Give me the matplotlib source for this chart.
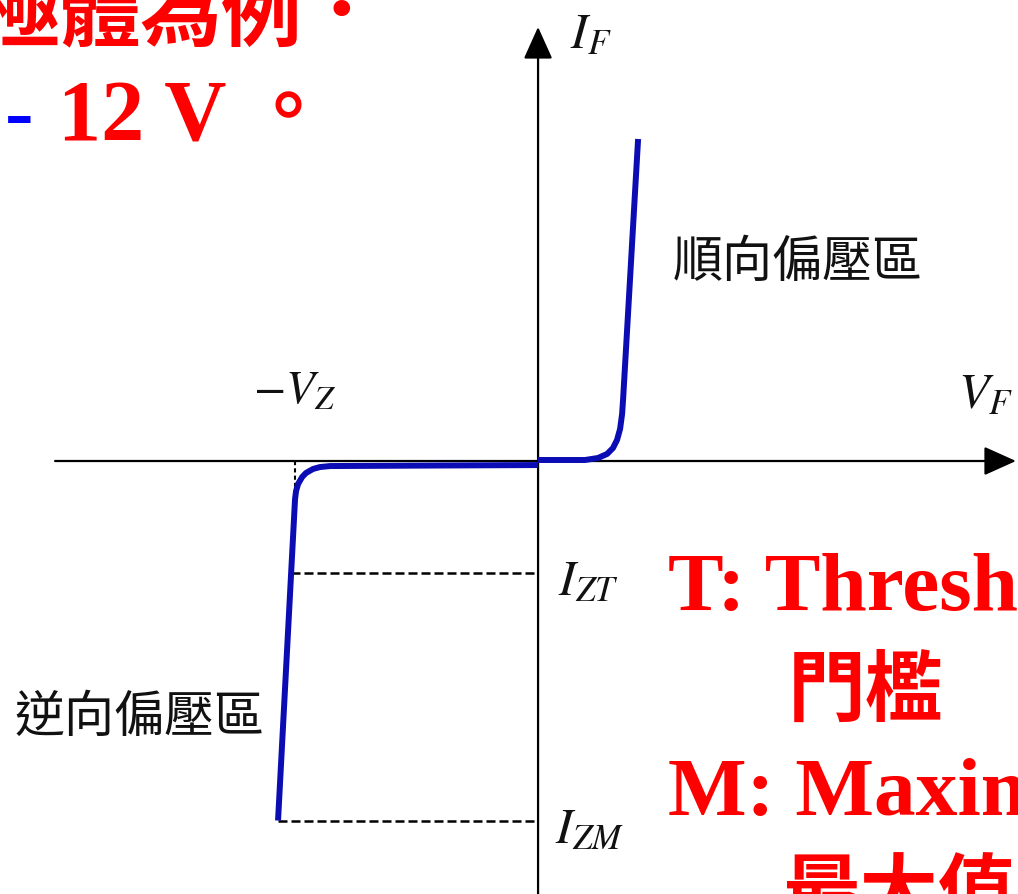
import numpy as np
import matplotlib
matplotlib.use('Agg')
from matplotlib import pyplot as plt

plt.rcParams['mathtext.fontset'] = 'stix'

# zener diode I-V curve (V in volts, I in mA, schematic)
vz = -12.0
izt = -10.0
izm = -32.1

fwd_v = [0.0, 2.32, 2.96, 3.41, 3.70, 3.90, 4.05, 4.15, 4.20, 4.94]
fwd_i = [0.09, 0.09, 0.27, 0.63, 1.16, 1.88, 2.86, 4.20, 5.54, 28.75]

rev_v = [0.0, -10.27, -10.77, -11.11, -11.46, -11.65, -11.85, -11.95, -12.0, -12.84]
rev_i = [-0.36, -0.45, -0.54, -0.71, -1.07, -1.43, -2.05, -2.68, -3.39, -32.1]

W, H = 1018, 895
fig = plt.figure(figsize=(W/100, H/100), dpi=100)
ax = fig.add_axes([0, 0, 1, 1])
ax.set_xlim(-26.57, 23.70)
ax.set_ylim(-38.66, 41.25)
ax.axis('off')

arrow = dict(arrowstyle='-|>,head_length=1.0,head_width=0.45', color='k', lw=1.6,
             mutation_scale=20, shrinkA=0, shrinkB=0)
ax.annotate('', xy=(23.6, 0), xytext=(-23.85, 0), arrowprops=arrow)
ax.annotate('', xy=(0, 38.75), xytext=(0, -38.66), arrowprops=arrow)

blue = '#0c0cb4'
ax.plot(fwd_v, fwd_i, color=blue, lw=4.3, solid_capstyle='butt', solid_joinstyle='round', zorder=5)
ax.plot(rev_v, rev_i, color=blue, lw=4.3, solid_capstyle='butt', solid_joinstyle='round', zorder=5)

zt_v = np.interp(izt, rev_i[::-1], rev_v[::-1])
zm_v = np.interp(izm, rev_i[::-1], rev_v[::-1])
ax.plot([zt_v, 0], [izt, izt], color='k', lw=1.8, dashes=(3.6, 1.6))
ax.plot([zm_v, 0], [izm, izm], color='k', lw=1.8, dashes=(3.6, 1.6))
ax.plot([vz, vz], [0, -2.6], color='k', lw=1.5, dashes=(2, 1.5))


def put(x, y, s, **kw):
    fig.text(x/W, 1 - y/H, s, **kw)


cjk = 'Noto Sans CJK TC'
serif = 'Liberation Serif'

put(570, 48, r'$I_F$', fontsize=36, color='#111111')
put(958, 408, r'$V_F$', fontsize=36, color='#111111')
put(253, 404, r'$-V_Z$', fontsize=34, color='#111111')
put(558, 595, r'$I_{ZT}$', fontsize=36, color='#111111')
put(555, 843, r'$I_{ZM}$', fontsize=36, color='#111111')

put(673, 263, '順向偏壓區', fontsize=36, family=cjk, va='center', color='#111111')
put(14, 718, '逆向偏壓區', fontsize=36, family=cjk, va='center', color='#111111')

red = '#ff0000'
put(668, 610, 'T: Threshold', fontsize=60, family=serif, weight='bold', color=red)
put(865, 692, '門檻', fontsize=56, family=cjk, weight='bold', color=red, ha='center', va='center')
put(668, 815, 'M: Maximum', fontsize=60, family=serif, weight='bold', color=red)
put(900, 895, '最大值', fontsize=56, family=cjk, weight='bold', color=red, ha='center', va='center')

put(383, 17, '稽納二極體為例．', fontsize=58, family=cjk, weight='bold', color=red, ha='right', va='center')
put(5, 140, '-', fontsize=62, family=serif, weight='bold', color='#0000ff')
put(58, 140, '12 V', fontsize=62, family=serif, weight='bold', color=red)
put(288, 112, '。', fontsize=58, family=cjk, weight='bold', color=red, ha='center', va='center')

fig.savefig('out.png', dpi=100)
